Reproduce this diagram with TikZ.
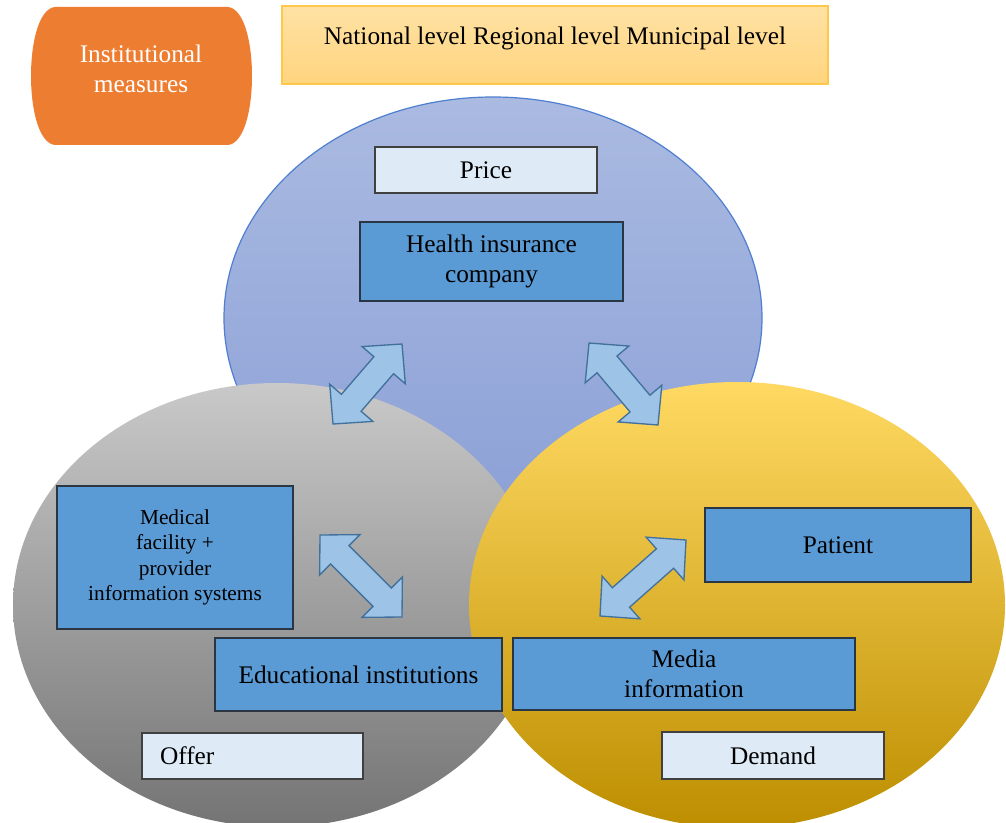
\documentclass[tikz,border=0pt]{standalone}
\usepackage{fontspec}
\setmainfont{Liberation Serif}
\usetikzlibrary{calc}

\definecolor{instorange}{HTML}{ED7D31}
\definecolor{levelTop}{HTML}{FFE2A4}
\definecolor{levelBot}{HTML}{FFD47E}
\definecolor{levelEdge}{HTML}{FFC84A}
\definecolor{blueTop}{HTML}{AABAE1}
\definecolor{blueBot}{HTML}{8A9FD6}
\definecolor{blueEdge}{HTML}{4F7FD0}
\definecolor{grayTop}{HTML}{C9C9C9}
\definecolor{grayBot}{HTML}{747474}
\definecolor{yellowTop}{HTML}{FFD962}
\definecolor{yellowMid}{HTML}{FFC000}
\definecolor{yellowBot}{HTML}{BD8E00}
\definecolor{actorFill}{HTML}{5B9BD5}
\definecolor{actorEdge}{HTML}{2A3644}
\definecolor{tagFill}{HTML}{DEEBF7}
\definecolor{tagEdge}{HTML}{404040}
\definecolor{linkFill}{HTML}{9DC3E6}
\definecolor{linkEdge}{HTML}{41719C}

% double-headed block arrow between two named tip coordinates
\newcommand\twowayarrow[3]{%
  \coordinate (#3-a) at ($(#1)!21pt!(#2)$);
  \coordinate (#3-b) at ($(#2)!21pt!(#1)$);
  \draw[linkarrow] (#1)
    -- ($(#3-a)!21.4pt!90:(#2)$) -- ($(#3-a)!9.75pt!90:(#2)$)
    -- ($(#3-b)!9.75pt!90:(#2)$) -- ($(#3-b)!21.4pt!90:(#2)$)
    -- (#2)
    -- ($(#3-b)!21.4pt!-90:(#2)$) -- ($(#3-b)!9.75pt!-90:(#2)$)
    -- ($(#3-a)!9.75pt!-90:(#2)$) -- ($(#3-a)!21.4pt!-90:(#2)$)
    -- cycle;%
}

\begin{document}
\begin{tikzpicture}[x=0.75pt,y=-0.75pt,
  every node/.style={font=\fontsize{19}{22.5}\selectfont, inner sep=0pt},
  actor/.style={draw=actorEdge, line width=1pt, fill=actorFill, align=center},
  tag/.style={draw=tagEdge, line width=0.9pt, fill=tagFill},
  linkarrow/.style={draw=linkEdge, line width=1pt, fill=linkFill, line join=miter}]

\clip (0,0) rectangle (1006,823);
\fill[white] (0,0) rectangle (1006,823);

% header elements
\fill[instorange] (55,7) -- (228,7) .. controls (260,10) and (260,142) .. (228,145)
  -- (55,145) .. controls (23,142) and (23,10) .. (55,7) -- cycle;
\node[text=white, align=center] (inst) at (141,69) {Institutional\\measures};

\node[draw=levelEdge, line width=1pt, top color=levelTop, bottom color=levelBot,
  minimum width=409.5pt, minimum height=58.5pt] (levelbox) at (555,45) {};
\node (levels) at (555,38) {National level Regional level Municipal level};

% the three spheres
\shade[draw=blueEdge, line width=0.9pt, top color=blueTop, bottom color=blueBot]
  (493,318) ellipse [x radius=201.75pt, y radius=165.75pt];
\shade[top color=grayTop, bottom color=grayBot]
  (277,605) ellipse [x radius=198pt, y radius=166.5pt];
\shade[top color=yellowTop, middle color=yellowMid, bottom color=yellowBot]
  (737,605) ellipse [x radius=201pt, y radius=167.25pt];

% insurer sphere
\node[tag, minimum width=166.5pt, minimum height=34.5pt] (price) at (486,170) {Price};
\node[actor, minimum width=197.25pt, minimum height=59.25pt] (insurer) at (491.5,261.5)
  {Health insurance\\company};

% provider sphere
\node[actor, minimum width=177pt, minimum height=107.25pt,
  font=\fontsize{16}{19}\selectfont] (provider) at (175,557.5)
  {Medical\\facility +\\provider\\information systems};
\node[actor, minimum width=215.25pt, minimum height=54.75pt] (edu) at (358.5,674.5)
  {Educational institutions};
\node[tag, text width=138.75pt, inner xsep=13.5pt, minimum height=34.5pt, align=left]
  (offer) at (252.5,756) {Offer};

% patient sphere
\node[actor, minimum width=199.5pt, minimum height=55.5pt] (patient) at (838,545) {Patient};
\node[actor, minimum width=256.5pt, minimum height=54pt] (media) at (684,674)
  {Media\\information};
\node[tag, minimum width=166.5pt, minimum height=35.25pt] (demand) at (773,755.5) {Demand};

% arrow tips
\coordinate (l1) at (333,424);
\coordinate (l2) at (402,344);
\coordinate (r1) at (589,343);
\coordinate (r2) at (658,425);
\coordinate (p1) at (320,535);
\coordinate (p2) at (402,617);
\coordinate (m1) at (600,616);
\coordinate (m2) at (686,540);

\twowayarrow{l1}{l2}{lt}
\twowayarrow{r1}{r2}{rt}
\twowayarrow{p1}{p2}{pe}
\twowayarrow{m1}{m2}{mp}

\end{tikzpicture}
\end{document}
